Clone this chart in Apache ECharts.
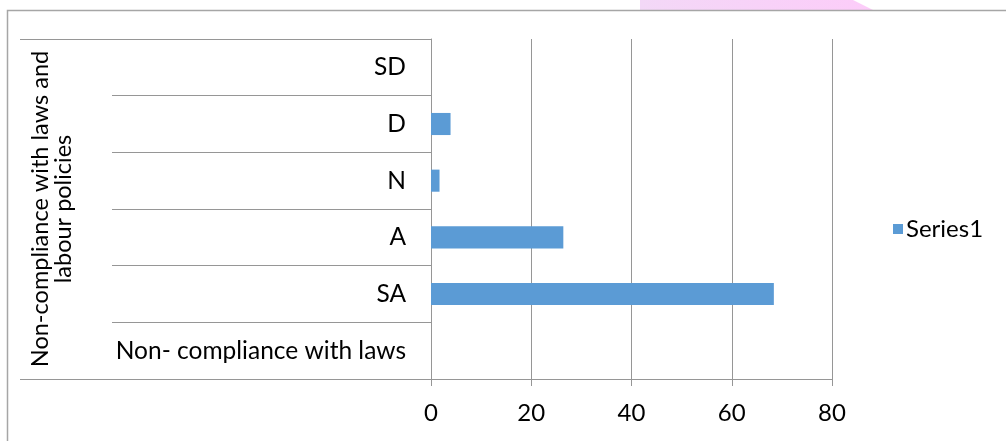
<!DOCTYPE html>
<html>
<head>
<meta charset="utf-8">
<script src="https://cdn.jsdelivr.net/npm/echarts@6/dist/echarts.min.js"></script>
<style>
  html, body { margin: 0; padding: 0; background: #ffffff; }
  #chart { width: 1006px; height: 441px; }
</style>
</head>
<body>
<div id="chart"></div>
<script>
// Categories listed bottom to top (ECharts puts the first category at the bottom)
const categories = ['Non- compliance with laws', 'SA', 'A', 'N', 'D', 'SD'];
const groupLabel = 'Non-compliance with laws and\nlabour policies';
const seriesName = 'Series1';
const values = [null, 68.4, 26.4, 1.7, 3.9, 0];
const xMin = 0;
const xMax = 80;
const xStep = 20;

const FONT = 'Lato, "Open Sans", sans-serif';
const FONT_SIZE = 24;
const GRID_COLOR = '#969696';
const FRAME_COLOR = '#a6a6a6';
const BAR_COLOR = '#5b9bd5';

const chart = echarts.init(document.getElementById('chart'), null, { renderer: 'canvas' });

chart.setOption({
  animation: false,
  backgroundColor: '#ffffff',
  textStyle: { fontFamily: FONT },
  grid: { left: 431, right: 174, top: 39, bottom: 62, outerBoundsMode: 'none' },
  legend: {
    data: [seriesName],
    orient: 'vertical',
    left: 893,
    top: 217,
    padding: 0,
    itemWidth: 10,
    itemHeight: 10,
    itemGap: 4,
    icon: 'rect',
    textStyle: { fontFamily: FONT, fontSize: FONT_SIZE, color: '#000000', padding: [0, 0, 0, -2] }
  },
  xAxis: {
    type: 'value',
    min: xMin,
    max: xMax,
    interval: xStep,
    axisLine: { show: true, lineStyle: { color: GRID_COLOR, width: 1 } },
    axisTick: { show: true, length: 7, lineStyle: { color: GRID_COLOR, width: 1 } },
    splitLine: { show: true, lineStyle: { color: GRID_COLOR, width: 1 } },
    axisLabel: { fontFamily: FONT, fontSize: FONT_SIZE, color: '#000000', margin: 22 }
  },
  yAxis: [
    {
      type: 'category',
      data: categories,
      position: 'left',
      axisLine: { show: true, lineStyle: { color: GRID_COLOR, width: 1 } },
      axisTick: { show: true, length: 319, lineStyle: { color: GRID_COLOR, width: 1 } },
      splitLine: { show: false },
      axisLabel: { interval: 0, fontFamily: FONT, fontSize: 24.5, color: '#000000', margin: 25 }
    },
    {
      // outer grouping level of the category axis
      type: 'category',
      data: [groupLabel],
      position: 'left',
      offset: 0,
      axisLine: { show: false },
      axisTick: { show: true, length: 411, lineStyle: { color: GRID_COLOR, width: 1 } },
      splitLine: { show: false },
      axisLabel: {
        interval: 0, rotate: 90, margin: 356,
        fontFamily: FONT, fontSize: 23.5, lineHeight: 23, color: '#000000', align: 'center'
      }
    }
  ],
  series: [
    {
      name: seriesName,
      type: 'bar',
      yAxisIndex: 0,
      data: values,
      barWidth: '39%',
      itemStyle: { color: BAR_COLOR }
    }
  ],
  graphic: [
    {
      type: 'polygon',
      silent: true,
      shape: { points: [[640, 0], [853, 0], [873, 10], [640, 10]] },
      style: {
        fill: new echarts.graphic.LinearGradient(0, 0, 1, 0, [
          { offset: 0, color: '#f3d8f7' },
          { offset: 1, color: '#fcccf9' }
        ])
      },
      z: 0
    },
    {
      type: 'polyline',
      silent: true,
      shape: { points: [[7.5, 441], [7.5, 10.5], [1006, 10.5]] },
      style: { stroke: FRAME_COLOR, lineWidth: 1.5, fill: null },
      z: 1
    }
  ]
});
</script>
</body>
</html>
